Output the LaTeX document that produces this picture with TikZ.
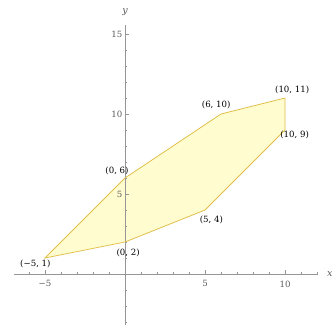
\documentclass[tikz,border=0pt]{standalone}
\usepackage{fontspec}
\setmainfont{DejaVu Serif}
\begin{document}
\begin{tikzpicture}[x=16pt,y=16pt,
  axisline/.style={draw=axisgray,line width=0.5pt},
  ticklab/.style={font=\fontsize{8.6}{9}\selectfont,text=labgray,inner sep=0pt},
  ptlab/.style={font=\fontsize{8.6}{9}\selectfont,text=black,inner sep=0pt},
  region/.style={draw=edgegold,fill=fillyellow,line width=0.75pt,line join=miter}]
\definecolor{axisgray}{RGB}{150,150,150}
\definecolor{labgray}{RGB}{90,90,90}
\definecolor{edgegold}{RGB}{224,190,72}
\definecolor{fillyellow}{RGB}{255,253,208}
\useasboundingbox (-7.8125,-3.25) rectangle (13.1875,17.125);
% polygon
\coordinate (A) at (-5,1);
\coordinate (B) at (0,2);
\coordinate (C) at (5,4);
\coordinate (D) at (10,9);
\coordinate (E) at (10,11);
\coordinate (F) at (6,10);
\coordinate (G) at (0,6);
\fill[fillyellow] (A) -- (B) -- (C) -- (D) -- (E) -- (F) -- (G) -- cycle;
% axes
\coordinate (xl) at (-6.95,0);
\coordinate (xr) at (12.05,0);
\coordinate (yb) at (0,-3.2);
\coordinate (yt) at (0,15.55);
\draw[axisline] (xl) -- (xr);
\draw[axisline] (yb) -- (yt);
\foreach \i in {-6,...,12} {\draw[axisline] (\i,0) -- ++(0,2.2pt);}
\foreach \i in {-5,0,5,10} {\draw[axisline] (\i,0) -- ++(0,3.6pt);}
\foreach \i in {-3,...,15} {\draw[axisline] (0,\i) -- ++(2.2pt,0);}
\foreach \i in {0,5,10,15} {\draw[axisline] (0,\i) -- ++(3.6pt,0);}
\node[ticklab] (tx1) at (-5,-0.62) {−5};
\node[ticklab] (tx2) at (5,-0.62) {5};
\node[ticklab] (tx3) at (10,-0.62) {10};
\node[ticklab,anchor=east] (ty1) at (-0.15,5) {5};
\node[ticklab,anchor=east] (ty2) at (-0.15,10) {10};
\node[ticklab,anchor=east] (ty3) at (-0.15,15) {15};
\node[ticklab,font=\fontsize{9.5}{10}\selectfont\itshape] (xlab) at (12.8,0) {x};
\node[ticklab,font=\fontsize{9.5}{10}\selectfont\itshape] (ylab) at (0,16.4) {y};
% outline
\draw[region,fill=none] (A) -- (B) -- (C) -- (D) -- (E) -- (F) -- (G) -- cycle;
% labels
\node[ptlab] (lA) at (-5.6,0.62) {(−5, 1)};
\node[ptlab] (lB) at (0.2,1.3) {(0, 2)};
\node[ptlab] (lC) at (5.4,3.4) {(5, 4)};
\node[ptlab] (lD) at (10.6,8.7) {(10, 9)};
\node[ptlab] (lE) at (10.45,11.5) {(10, 11)};
\node[ptlab] (lF) at (5.7,10.55) {(6, 10)};
\node[ptlab] (lG) at (-0.5,6.45) {(0, 6)};
\end{tikzpicture}
\end{document}
